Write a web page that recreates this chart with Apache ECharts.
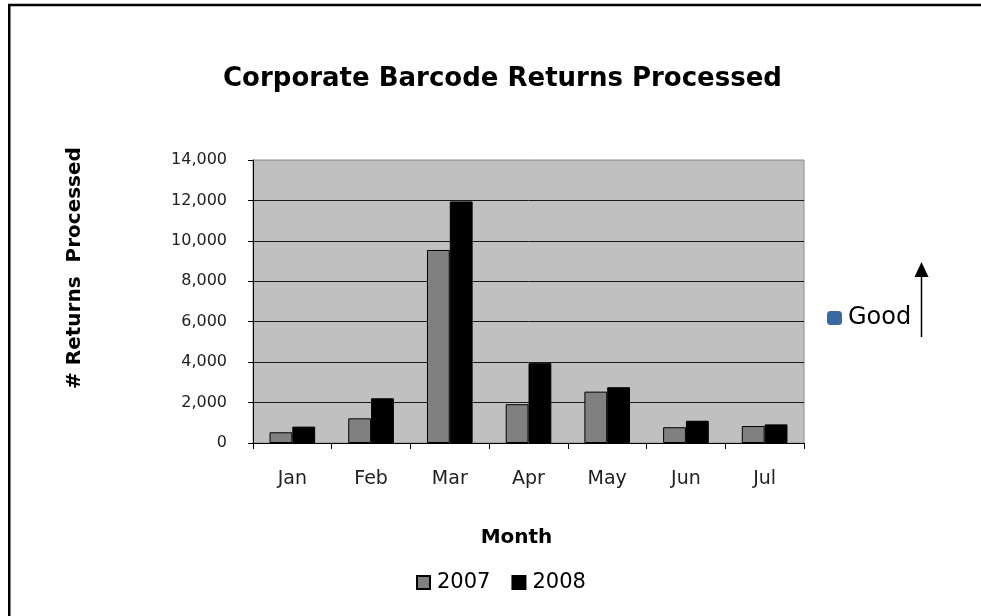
<!DOCTYPE html>
<html>
<head>
<meta charset="utf-8">
<script src="https://cdn.jsdelivr.net/npm/echarts@6/dist/echarts.min.js"></script>
<style>
  html, body { margin: 0; padding: 0; background: #fff; }
  #chart { width: 981px; height: 616px; }
</style>
</head>
<body>
<div id="chart"></div>
<script>
// month categories and returns per year
var months = ['Jan', 'Feb', 'Mar', 'Apr', 'May', 'Jun', 'Jul'];
var returns2007 = [530, 1220, 9550, 1920, 2540, 780, 840];
var returns2008 = [810, 2210, 11950, 3950, 2760, 1100, 920];
var goodData = []; // legend-only entry

var font = 'DejaVu Sans';

var chart = echarts.init(document.getElementById('chart'));

chart.setOption({
  animation: false,
  backgroundColor: '#fff',
  textStyle: { fontFamily: font },
  title: {
    text: 'Corporate Barcode Returns Processed',
    left: 218,
    top: 61,
    textStyle: { fontFamily: font, fontSize: 26, fontWeight: 'bold', color: '#000' }
  },
  legend: [
    {
      data: ['2007', '2008'],
      top: 567,
      left: 411,
      itemWidth: 13,
      itemHeight: 13,
      itemGap: 21,
      icon: 'rect',
      textStyle: { fontFamily: font, fontSize: 21, color: '#000', padding: [0, 0, 0, 2] }
    },
    {
      data: [{ name: 'Good', icon: 'roundRect', itemStyle: { color: '#3a69a2', opacity: 1 } }],
      left: 822,
      top: 301,
      itemWidth: 15,
      itemHeight: 14,
      textStyle: { fontFamily: font, fontSize: 24, color: '#000', padding: [0, 0, 0, 1] }
    }
  ],
  grid: {
    left: 253,
    top: 160,
    right: 177,
    bottom: 173,
    show: true,
    backgroundColor: '#c0c0c0',
    borderColor: '#8c8c8c',
    borderWidth: 1,
    containLabel: false
  },
  xAxis: {
    type: 'category',
    data: months,
    name: 'Month',
    nameLocation: 'middle',
    nameGap: 85,
    nameTextStyle: { fontFamily: font, fontSize: 20, fontWeight: 'bold', color: '#000', padding: [0, 24, 0, 0] },
    axisLine: { lineStyle: { color: '#000', width: 1 } },
    axisTick: { show: true, length: 6, lineStyle: { color: '#000' } },
    axisLabel: { margin: 27, fontSize: 19, color: '#222', fontFamily: font }
  },
  yAxis: {
    type: 'value',
    min: 0,
    max: 14000,
    interval: 2000,
    axisLine: { show: true, lineStyle: { color: '#000', width: 1 } },
    axisTick: { show: true, length: 5, lineStyle: { color: '#000' } },
    axisLabel: {
      margin: 26,
      fontSize: 16,
      color: '#222',
      fontFamily: font,
      formatter: function (v) { return v.toLocaleString('en-US'); }
    },
    splitLine: { show: true, showMaxLine: false, lineStyle: { color: '#1a1a1a', width: 1 } }
  },
  series: [
    {
      name: '2007',
      type: 'bar',
      data: returns2007,
      barGap: '0%',
      barCategoryGap: '42%',
      itemStyle: { color: '#808080', borderColor: '#000', borderWidth: 1 }
    },
    {
      name: '2008',
      type: 'bar',
      data: returns2008,
      barGap: '0%',
      barCategoryGap: '42%',
      itemStyle: { color: '#000', borderColor: '#000', borderWidth: 1 }
    },
    {
      name: 'Good',
      type: 'scatter',
      data: goodData,
      itemStyle: { color: '#3a69a2', opacity: 1 }
    }
  ],
  graphic: [
    {
      // y axis title, sits above the plot's middle like the original
      type: 'text',
      x: 75,
      y: 268,
      rotation: Math.PI / 2,
      style: {
        text: '# Returns  Processed',
        fontFamily: font,
        fontSize: 20,
        fontWeight: 'bold',
        fill: '#000',
        align: 'center',
        verticalAlign: 'middle'
      }
    },
    {
      // outer frame, runs off the right and bottom edges
      type: 'rect',
      shape: { x: 9.25, y: 5, width: 1000, height: 700 },
      style: { fill: 'none', stroke: '#000', lineWidth: 2.5 },
      silent: true
    },
    {
      type: 'line',
      shape: { x1: 921.5, y1: 276, x2: 921.5, y2: 337 },
      style: { stroke: '#000', lineWidth: 1.5 },
      silent: true
    },
    {
      type: 'polygon',
      shape: { points: [[921.5, 262], [914.5, 277], [928.5, 277]] },
      style: { fill: '#000' },
      silent: true
    }
  ]
});
</script>
</body>
</html>
